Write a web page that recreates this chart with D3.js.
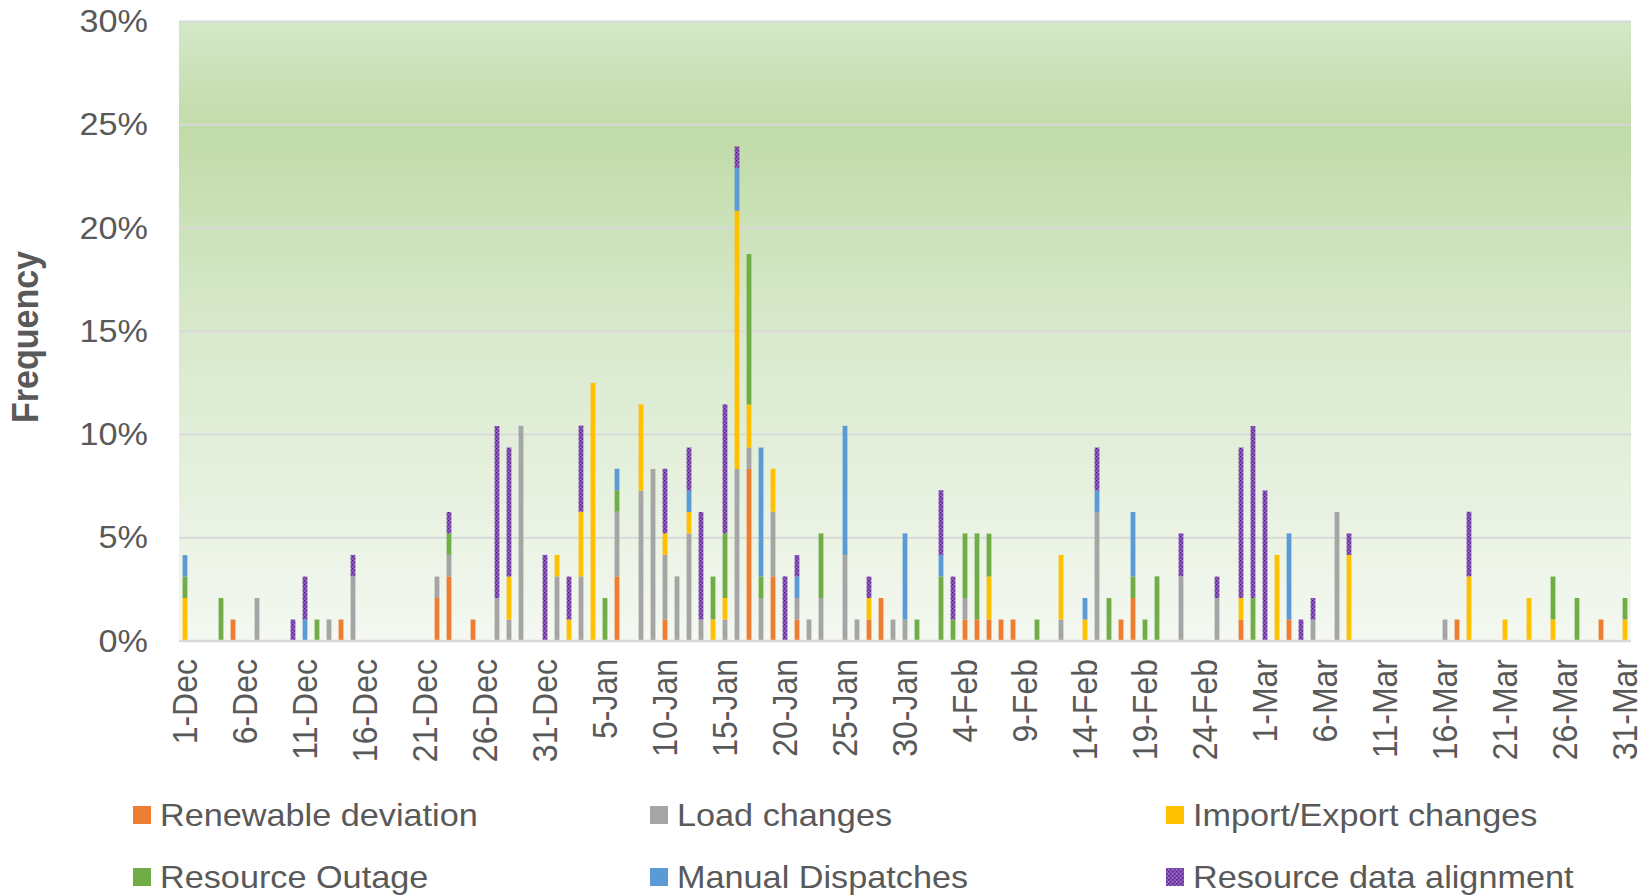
<!DOCTYPE html>
<html><head><meta charset="utf-8">
<script src="https://cdn.jsdelivr.net/npm/d3@7"></script>
<style>
html,body{margin:0;padding:0;background:#fff;}
svg{display:block;font-family:"Liberation Sans",Arial,sans-serif;}
</style></head>
<body>
<svg id="chart" width="1648" height="896"></svg>
<script>
// ---- data (percent of intervals per day) ----
const seriesNames = ["Renewable deviation","Load changes","Import/Export changes","Resource Outage","Manual Dispatches","Resource data alignment"];
const seriesColors = ["#ED7D31","#A5A5A5","#FFC000","#70AD47","#5B9BD5","url(#purplePattern)"];
const tickLabels = ["1-Dec","6-Dec","11-Dec","16-Dec","21-Dec","26-Dec","31-Dec","5-Jan","10-Jan","15-Jan","20-Jan","25-Jan","30-Jan","4-Feb","9-Feb","14-Feb","19-Feb","24-Feb","1-Mar","6-Mar","11-Mar","16-Mar","21-Mar","26-Mar","31-Mar"];
const yTicks = [0,5,10,15,20,25,30];

const renewable = [["5-Dec",1.04],["14-Dec",1.04],["22-Dec",2.08],["23-Dec",3.13],["25-Dec",1.04],["6-Jan",3.13],["10-Jan",1.04],["17-Jan",8.33],["19-Jan",3.13],["21-Jan",1.04],["27-Jan",1.04],["28-Jan",2.08],["4-Feb",1.04],["5-Feb",1.04],["6-Feb",1.04],["7-Feb",1.04],["8-Feb",1.04],["17-Feb",1.04],["18-Feb",2.08],["27-Feb",1.04],["3-Mar",1.04],["17-Mar",1.04],["29-Mar",1.04]];
const load = [["7-Dec",2.08],["13-Dec",1.04],["15-Dec",3.13],["22-Dec",1.04],["23-Dec",1.04],["27-Dec",2.08],["28-Dec",1.04],["29-Dec",10.42],["1-Jan",3.13],["3-Jan",3.13],["6-Jan",3.13],["8-Jan",7.29],["9-Jan",8.33],["10-Jan",3.13],["11-Jan",3.13],["12-Jan",5.21],["13-Jan",1.04],["15-Jan",1.04],["16-Jan",8.33],["17-Jan",1.04],["18-Jan",2.08],["19-Jan",3.13],["21-Jan",1.04],["22-Jan",1.04],["23-Jan",2.08],["25-Jan",4.17],["26-Jan",1.04],["29-Jan",1.04],["30-Jan",1.04],["4-Feb",1.04],["12-Feb",1.04],["15-Feb",6.25],["22-Feb",3.13],["25-Feb",2.08],["5-Mar",1.04],["7-Mar",6.25],["16-Mar",1.04]];
const importExport = [["1-Dec",2.08],["28-Dec",2.08],["1-Jan",1.04],["2-Jan",1.04],["3-Jan",3.13],["4-Jan",12.5],["8-Jan",4.17],["10-Jan",1.04],["12-Jan",1.04],["14-Jan",1.04],["15-Jan",1.04],["16-Jan",12.5],["17-Jan",2.08],["19-Jan",2.08],["27-Jan",1.04],["6-Feb",2.08],["12-Feb",3.13],["14-Feb",1.04],["27-Feb",1.04],["2-Mar",4.17],["8-Mar",4.17],["18-Mar",3.13],["21-Mar",1.04],["23-Mar",2.08],["25-Mar",1.04],["31-Mar",1.04]];
const outage = [["1-Dec",1.04],["4-Dec",2.08],["12-Dec",1.04],["23-Dec",1.04],["5-Jan",2.08],["6-Jan",1.04],["14-Jan",2.08],["15-Jan",3.13],["17-Jan",7.29],["18-Jan",1.04],["23-Jan",3.13],["31-Jan",1.04],["2-Feb",3.13],["3-Feb",1.04],["4-Feb",3.13],["5-Feb",4.17],["6-Feb",2.08],["10-Feb",1.04],["16-Feb",2.08],["18-Feb",1.04],["19-Feb",1.04],["20-Feb",3.13],["28-Feb",2.08],["25-Mar",2.08],["27-Mar",2.08],["31-Mar",1.04]];
const manual = [["1-Dec",1.04],["11-Dec",1.04],["6-Jan",1.04],["12-Jan",1.04],["16-Jan",2.08],["18-Jan",6.25],["21-Jan",1.04],["25-Jan",6.25],["30-Jan",4.17],["2-Feb",1.04],["14-Feb",1.04],["15-Feb",1.04],["18-Feb",3.13],["3-Mar",4.17]];
const dataAlignment = [["10-Dec",1.04],["11-Dec",2.08],["15-Dec",1.04],["23-Dec",1.04],["27-Dec",8.33],["28-Dec",6.25],["31-Dec",4.17],["2-Jan",2.08],["3-Jan",4.17],["10-Jan",3.13],["12-Jan",2.08],["13-Jan",5.21],["15-Jan",6.25],["16-Jan",1.04],["20-Jan",3.13],["21-Jan",1.04],["27-Jan",1.04],["2-Feb",3.13],["3-Feb",2.08],["15-Feb",2.08],["22-Feb",2.08],["25-Feb",1.04],["27-Feb",7.29],["28-Feb",8.33],["1-Mar",7.29],["4-Mar",1.04],["5-Mar",1.04],["8-Mar",1.04],["18-Mar",3.13]];

// ---- categories: every day 1-Dec .. 31-Mar ----
const fmt = d3.timeFormat("%-d-%b");
const days = d3.timeDay.range(new Date(2018,11,1), new Date(2019,3,1)).map(fmt);

const seriesData = [renewable, load, importExport, outage, manual, dataAlignment];
const table = days.map(d => {
  const row = {day: d};
  seriesNames.forEach(n => { row[n] = 0; });
  return row;
});
const byDay = new Map(table.map(r => [r.day, r]));
seriesData.forEach((arr,i) => arr.forEach(([d,v]) => { byDay.get(d)[seriesNames[i]] = v; }));

const stacked = d3.stack().keys(seriesNames)(table);

// ---- layout ----
const svg = d3.select("#chart");
const plot = {left:179, right:1631, top:21.5, bottom:641};
const x = d3.scaleBand().domain(days).range([plot.left, plot.right]).paddingInner(0.6).paddingOuter(0.3);
const y = d3.scaleLinear().domain([0,30]).range([plot.bottom, plot.top]);
const SX = 1.07; // horizontal stretch of text seen in reference

const defs = svg.append("defs");
const grad = defs.append("linearGradient").attr("id","bg").attr("x1",0).attr("y1",0).attr("x2",0).attr("y2",1);
[[0,"#d4e7c7"],[0.18,"#c1dba9"],[0.5,"#d8e9cc"],[1,"#f4f8f1"]].forEach(([o,c]) => grad.append("stop").attr("offset",o).attr("stop-color",c));
const pat = defs.append("pattern").attr("id","purplePattern").attr("patternUnits","userSpaceOnUse").attr("width",4).attr("height",4);
pat.append("rect").attr("width",4).attr("height",4).attr("fill","#8a58bb");
pat.append("rect").attr("x",0).attr("y",0).attr("width",1.5).attr("height",1.5).attr("fill","#5c2290");
pat.append("rect").attr("x",2).attr("y",2).attr("width",1.5).attr("height",1.5).attr("fill","#5c2290");
pat.append("rect").attr("x",2).attr("y",0).attr("width",1).attr("height",1).attr("fill","#a887cf");

svg.append("rect").attr("x",plot.left).attr("y",plot.top).attr("width",plot.right-plot.left).attr("height",plot.bottom-plot.top).attr("fill","url(#bg)");

// gridlines
svg.append("g").selectAll("line").data(yTicks).join("line")
  .attr("x1",plot.left).attr("x2",plot.right)
  .attr("y1",d=>y(d)).attr("y2",d=>y(d))
  .attr("stroke","#d9d9d9").attr("stroke-width",2);

// bars
svg.append("g").selectAll("g").data(stacked).join("g")
  .attr("fill",(d,i)=>seriesColors[i])
  .selectAll("rect").data(d=>d.filter(s=>s[1]>s[0])).join("rect")
  .attr("x",d=>x(d.data.day)).attr("width",x.bandwidth())
  .attr("y",d=>y(d[1])).attr("height",d=>y(d[0])-y(d[1]));

// y axis labels
const yAxis = d3.axisLeft(y).tickValues(yTicks).tickFormat(d=>d+"%").tickSize(0).tickPadding(0);
const gy = svg.append("g").attr("transform",`translate(148,0)`).call(yAxis);
gy.select(".domain").remove();
gy.selectAll("text").attr("font-size",32).attr("fill","#595959").attr("font-family","'Liberation Sans',Arial,sans-serif")
  .attr("x",0).attr("transform",`scale(${SX},1)`);

// x axis
const xAxis = d3.axisBottom(x).tickValues(tickLabels).tickSize(0).tickPadding(0);
const gx = svg.append("g").attr("transform",`translate(0,${plot.bottom})`).call(xAxis);
gx.select(".domain").remove();
gx.selectAll("text")
  .attr("font-size",32).attr("fill","#595959").attr("font-family","'Liberation Sans',Arial,sans-serif")
  .attr("text-anchor","end")
  .attr("transform",`translate(0,18) scale(${SX},1) rotate(-90)`)
  .attr("x",0).attr("y",0).attr("dy","0.35em");

// baseline
svg.append("line").attr("x1",plot.left).attr("x2",plot.right).attr("y1",plot.bottom).attr("y2",plot.bottom)
  .attr("stroke","#d9d9d9").attr("stroke-width",2.5);

// y title
svg.append("text").attr("transform",`translate(38,337) scale(${SX},1) rotate(-90)`)
  .attr("text-anchor","middle").attr("font-size",34).attr("font-weight","bold").attr("fill","#595959")
  .text("Frequency");

// legend
const legendPos = [[133,815],[650,815],[1166,815],[133,877],[650,877],[1166,877]];
const lg = svg.append("g").selectAll("g").data(seriesNames).join("g")
  .attr("transform",(d,i)=>`translate(${legendPos[i][0]},${legendPos[i][1]})`);
lg.append("rect").attr("x",0).attr("y",-9).attr("width",18).attr("height",18).attr("fill",(d,i)=>seriesColors[i]);
lg.append("text").attr("transform",`translate(27,0) scale(${SX},1)`).attr("dy","0.35em")
  .attr("font-size",32).attr("fill","#595959").text(d=>d);
</script>
</body></html>
